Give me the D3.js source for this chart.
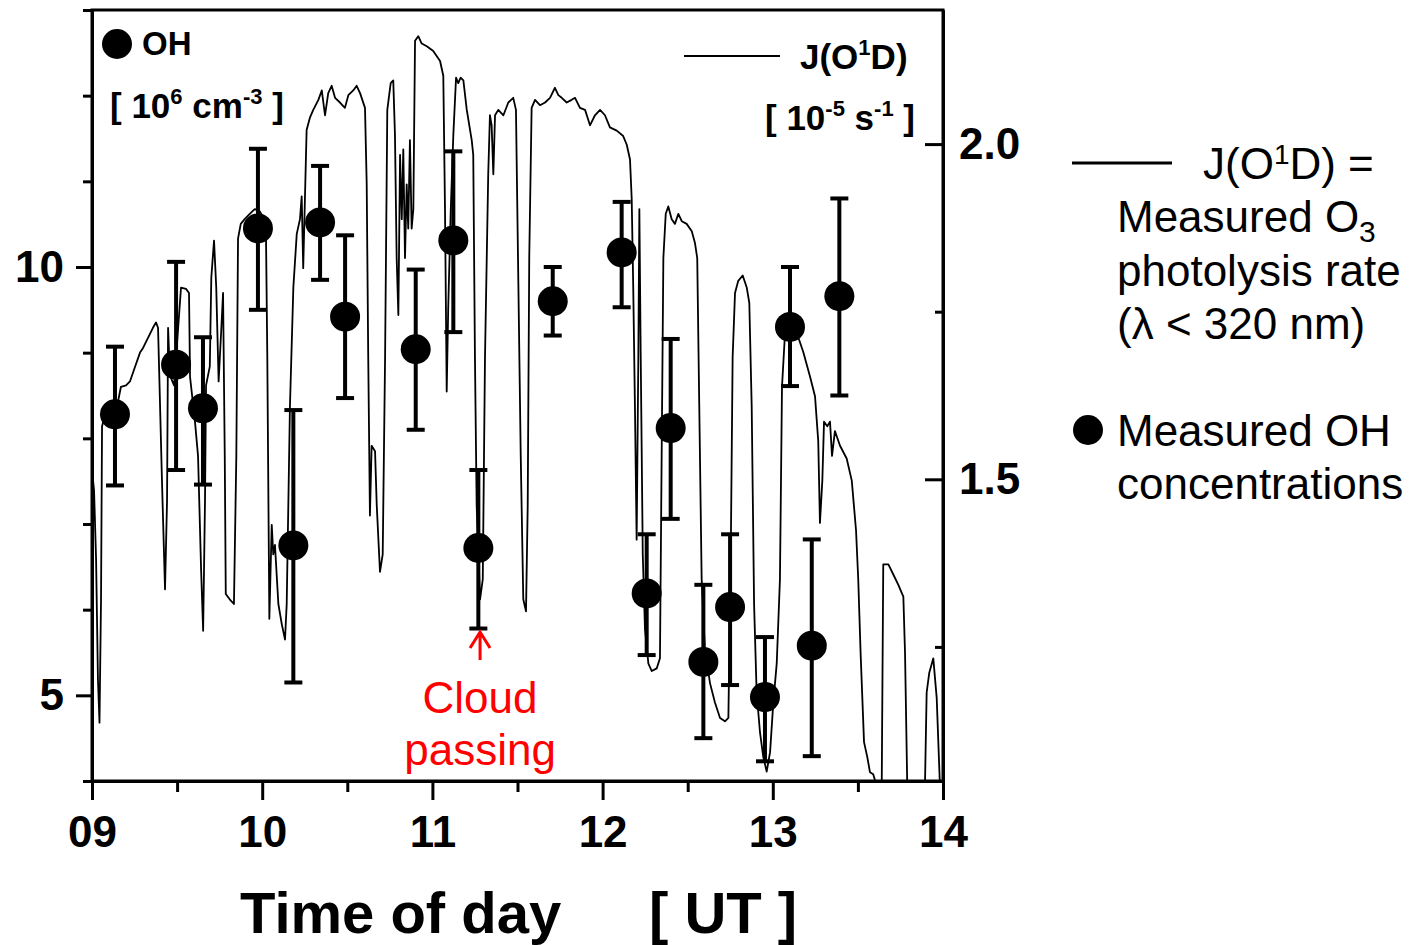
<!DOCTYPE html>
<html>
<head>
<meta charset="utf-8">
<script src="https://cdn.jsdelivr.net/npm/d3@7"></script>
<style>
  body { margin: 0; background: #fff; }
  svg { display: block; font-family: "Liberation Sans", Arial, sans-serif; }
  .axis path, .axis line { stroke: #000; stroke-width: 3; }
  .axis text { font-size: 44px; font-weight: bold; fill: #000; font-family: "Liberation Sans", Arial, sans-serif; }
</style>
</head>
<body>
<div id="chart-area"></div>
<script>
// OH measurements (10^6 cm-3) with error bars
var ohTime = [9.135, 9.494, 9.652, 9.975, 10.183, 10.340, 10.487, 10.902, 11.123, 11.270,
              11.707, 12.112, 12.259, 12.400, 12.592, 12.749, 12.954, 13.101, 13.229, 13.391];
var ohConc = [8.28, 8.86, 8.35, 10.45, 6.75, 10.52, 9.42, 9.04, 10.31, 6.72,
              9.60, 10.17, 6.19, 8.12, 5.39, 6.03, 4.98, 9.30, 5.58, 9.66];
var ohHigh = [9.07, 10.06, 9.18, 11.38, 8.33, 11.18, 10.37, 9.97, 11.35, 7.63,
              10.00, 10.76, 6.88, 9.16, 6.29, 6.88, 5.68, 10.00, 6.82, 10.80];
var ohLow  = [7.45, 7.63, 7.46, 9.50, 5.15, 9.85, 8.47, 8.10, 9.24, 5.78,
              9.20, 9.53, 5.47, 7.06, 4.50, 5.12, 4.23, 8.61, 4.29, 8.50];

// J(O1D) trace (10^-5 s-1)
var jTime = [9.000, 9.012, 9.024, 9.035, 9.044, 9.053, 9.059, 9.075, 9.106, 9.153, 9.170, 9.200, 9.223, 9.253, 9.282, 9.300,
  9.329, 9.358, 9.376, 9.388, 9.394, 9.411, 9.429, 9.441, 9.447, 9.458, 9.482, 9.505, 9.523, 9.552, 9.570, 9.576,
  9.605, 9.623, 9.641, 9.653, 9.664, 9.670, 9.692, 9.701, 9.717, 9.730, 9.744, 9.760, 9.770, 9.780, 9.786, 9.809,
  9.834, 9.848, 9.858, 9.874, 9.897, 9.927, 9.956, 9.985, 10.012,
  10.022, 10.030, 10.042, 10.056, 10.065, 10.075, 10.095, 10.115, 10.134, 10.144, 10.163, 10.183, 10.203, 10.222,
  10.232, 10.241, 10.251, 10.261, 10.281, 10.300, 10.330, 10.350, 10.369, 10.388, 10.408, 10.428, 10.457, 10.486,
  10.506, 10.535, 10.555, 10.575, 10.604, 10.614, 10.623, 10.633, 10.643, 10.663, 10.673, 10.692, 10.708, 10.722,
  10.735, 10.755, 10.770, 10.780, 10.790, 10.800, 10.810, 10.820, 10.829, 10.839, 10.849, 10.858, 10.868, 10.878,
  10.888, 10.898, 10.917, 10.937, 10.967, 11.005, 11.045,
  11.064, 11.074, 11.084, 11.093, 11.108, 11.123, 11.139, 11.152, 11.166, 11.182, 11.202, 11.231, 11.240, 11.250,
  11.260, 11.280, 11.296, 11.309, 11.328, 11.338, 11.348, 11.358, 11.368, 11.387, 11.417, 11.446, 11.475, 11.491,
  11.505, 11.519, 11.534, 11.550, 11.560, 11.569, 11.583, 11.603, 11.632, 11.662, 11.691, 11.720, 11.740, 11.760,
  11.789, 11.818, 11.838, 11.867, 11.897, 11.926, 11.955, 11.985, 12.014,
  12.043, 12.083, 12.121, 12.142, 12.161, 12.171, 12.180, 12.190, 12.200, 12.210, 12.216, 12.224, 12.236, 12.249,
  12.269, 12.289, 12.318, 12.337, 12.347, 12.357, 12.371, 12.386, 12.406, 12.425, 12.445, 12.465, 12.494, 12.524,
  12.543, 12.556, 12.568, 12.582, 12.601, 12.631, 12.660, 12.690, 12.719, 12.739, 12.753, 12.764, 12.778, 12.797,
  12.823, 12.847, 12.862, 12.876, 12.890, 12.905, 12.925, 12.944, 12.964, 12.984, 13.003, 13.023,
  13.042, 13.054, 13.072, 13.101, 13.140, 13.179, 13.219, 13.248, 13.267, 13.277, 13.291, 13.301, 13.320, 13.336,
  13.348, 13.365, 13.395, 13.434, 13.464, 13.489, 13.502, 13.516, 13.536, 13.555, 13.571, 13.590, 13.610, 13.640,
  13.649, 13.679, 13.708, 13.737, 13.767, 13.777, 13.790, 13.894, 13.904, 13.919, 13.943, 13.963, 13.982];
var jRate = [1.513, 1.484, 1.380, 1.201, 1.137, 1.320, 1.579, 1.594, 1.606, 1.616, 1.638, 1.640, 1.646, 1.668, 1.689, 1.696,
  1.711, 1.726, 1.734, 1.726, 1.668, 1.499, 1.336, 1.469, 1.726, 1.655, 1.640, 1.722, 1.786, 1.784, 1.778, 1.653,
  1.586, 1.535, 1.365, 1.274, 1.469, 1.640, 1.668, 1.801, 1.856, 1.786, 1.646, 1.726, 1.778, 1.535, 1.329, 1.321,
  1.314, 1.535, 1.859, 1.881, 1.888, 1.896, 1.903, 1.900, 1.888,
  1.871, 1.682, 1.292, 1.432, 1.388, 1.402, 1.314, 1.284, 1.261, 1.314, 1.609, 1.786, 1.866, 1.888,
  1.922, 1.815, 1.918, 2.021, 2.040, 2.051, 2.066, 2.080, 2.043, 2.076, 2.087, 2.069, 2.062, 2.054,
  2.073, 2.080, 2.087, 2.076, 2.054, 1.940, 1.682, 1.446, 1.550, 1.542, 1.461, 1.362, 1.388, 1.682,
  2.051, 2.091, 2.095, 2.014, 1.830, 1.745, 1.984, 1.888, 1.992, 1.830, 1.940, 1.874, 2.006, 1.874,
  1.903, 2.154, 2.161, 2.150, 2.146, 2.139, 2.124,
  2.102, 1.903, 1.631, 1.756, 1.903, 2.014, 2.099, 2.091, 2.099, 2.095, 2.051, 2.006, 1.984, 1.682,
  1.461, 1.321, 1.351, 1.682, 1.955, 2.043, 2.028, 1.955, 2.043, 2.051, 2.043, 2.062, 2.069, 2.051,
  1.793, 1.535, 1.321, 1.303, 1.461, 1.830, 2.054, 2.066, 2.058, 2.062, 2.069, 2.084, 2.073, 2.069,
  2.062, 2.066, 2.069, 2.054, 2.051, 2.028, 2.043, 2.051, 2.043,
  2.025, 2.020, 2.012, 1.999, 1.977, 1.918, 1.786, 1.609, 1.410, 1.682, 1.903, 1.682, 1.388, 1.277,
  1.225, 1.214, 1.218, 1.233, 1.535, 1.830, 1.896, 1.907, 1.888, 1.881, 1.896, 1.885, 1.881, 1.870,
  1.852, 1.830, 1.609, 1.351, 1.248, 1.196, 1.167, 1.144, 1.139, 1.144, 1.388, 1.682, 1.778, 1.796,
  1.804, 1.786, 1.763, 1.609, 1.314, 1.182, 1.122, 1.086, 1.064, 1.093, 1.167, 1.225,
  1.351, 1.638, 1.719, 1.727, 1.719, 1.690, 1.653, 1.624, 1.557, 1.435, 1.498, 1.586, 1.579, 1.586,
  1.535, 1.572, 1.550, 1.531, 1.498, 1.424, 1.351, 1.240, 1.108, 1.086, 1.063, 1.060, 1.043, 1.043,
  1.373, 1.373, 1.358, 1.343, 1.325, 1.240, 1.043, 1.043, 1.182, 1.211, 1.233, 1.174, 1.043];

// axis ticks
var timeTicks = [9, 10, 11, 12, 13, 14];
var timeMinor = [9.5, 10.5, 11.5, 12.5, 13.5];
var ohTicks = [5, 10];
var ohMinor = [4, 6, 7, 8, 9, 11, 12, 13];
var jTicks = [1.5, 2.0];
var jMinor = [1.25, 1.75];

var margin = { top: 10, right: 475, bottom: 164, left: 92 },
    width = 1418 - margin.left - margin.right,
    height = 945 - margin.top - margin.bottom;

var svg = d3.select('#chart-area').append('svg')
    .attr('width', 1418)
    .attr('height', 945)
  .append('g')
    .attr('transform', 'translate(' + margin.left + ',' + margin.top + ')');

var x = d3.scaleLinear().domain([9, 14]).range([0, width]);
var yOH = d3.scaleLinear().domain([4, 13]).range([height, 0]);
var yJ = d3.scaleLinear().domain([1.05, 2.2]).range([height, 0]);

svg.append('clipPath').attr('id', 'plot-clip')
  .append('rect').attr('width', width).attr('height', height);

// J(O1D) line
var jData = jTime.map(function(t, i){ return { t: t, v: jRate[i] }; });
var line = d3.line()
  .x(function(d){ return x(d.t); })
  .y(function(d){ return yJ(d.v); });

svg.append('path')
  .datum(jData)
  .attr('clip-path', 'url(#plot-clip)')
  .attr('fill', 'none')
  .attr('stroke', '#000')
  .attr('stroke-width', 1.8)
  .attr('stroke-linejoin', 'round')
  .attr('d', line);

// OH points with error bars
var ohData = ohTime.map(function(t, i){
  return { t: t, c: ohConc[i], lo: ohLow[i], hi: ohHigh[i] };
});

var bars = svg.append('g').selectAll('g').data(ohData).enter().append('g');
bars.append('line')
  .attr('x1', function(d){ return x(d.t); })
  .attr('x2', function(d){ return x(d.t); })
  .attr('y1', function(d){ return yOH(d.lo); })
  .attr('y2', function(d){ return yOH(d.hi); })
  .attr('stroke', '#000').attr('stroke-width', 4);
['lo', 'hi'].forEach(function(k){
  bars.append('line')
    .attr('x1', function(d){ return x(d.t) - 9; })
    .attr('x2', function(d){ return x(d.t) + 9; })
    .attr('y1', function(d){ return yOH(d[k]); })
    .attr('y2', function(d){ return yOH(d[k]); })
    .attr('stroke', '#000').attr('stroke-width', 4);
});
bars.append('circle')
  .attr('cx', function(d){ return x(d.t); })
  .attr('cy', function(d){ return yOH(d.c); })
  .attr('r', 15)
  .attr('fill', '#000');

// frame
svg.append('rect')
  .attr('width', width).attr('height', height)
  .attr('fill', 'none').attr('stroke', '#000').attr('stroke-width', 3);

// x axis
svg.append('g').attr('class', 'axis')
  .attr('transform', 'translate(0,' + height + ')')
  .call(d3.axisBottom(x).tickValues(timeMinor).tickSize(11).tickSizeOuter(0).tickFormat(''));
svg.append('g').attr('class', 'axis')
  .attr('transform', 'translate(0,' + height + ')')
  .call(d3.axisBottom(x).tickValues(timeTicks).tickSize(19).tickSizeOuter(0).tickPadding(16)
    .tickFormat(d3.format('02d')));

// left axis
svg.append('g').attr('class', 'axis')
  .call(d3.axisLeft(yOH).tickValues(ohMinor).tickSize(9).tickSizeOuter(0).tickFormat(''));
svg.append('g').attr('class', 'axis')
  .call(d3.axisLeft(yOH).tickValues(ohTicks).tickSize(16).tickSizeOuter(0).tickPadding(12)
    .tickFormat(d3.format('d')));

// right axis (ticks inside)
svg.append('g').attr('class', 'axis')
  .attr('transform', 'translate(' + width + ',0)')
  .call(d3.axisRight(yJ).tickValues(jMinor).tickSize(-8).tickSizeOuter(0).tickFormat(''));
svg.append('g').attr('class', 'axis')
  .attr('transform', 'translate(' + width + ',0)')
  .call(d3.axisRight(yJ).tickValues(jTicks).tickSize(-18).tickSizeOuter(0).tickPadding(16)
    .tickFormat(d3.format('.1f')));

// x label
var xLabel = svg.append('text')
  .attr('y', 923)
  .attr('font-size', '58px')
  .attr('font-weight', 'bold');
xLabel.append('tspan').attr('x', 148).text('Time of day');
xLabel.append('tspan').attr('x', 557).text('[ UT ]');

// inner legend: OH
svg.append('circle').attr('cx', 25).attr('cy', 34).attr('r', 15).attr('fill', '#000');
svg.append('text').attr('x', 50).attr('y', 45)
  .attr('font-size', '33px').attr('font-weight', 'bold').text('OH');

var ohUnit = svg.append('text').attr('x', 18).attr('y', 108)
  .attr('font-size', '35px').attr('font-weight', 'bold');
ohUnit.append('tspan').text('[ 10');
ohUnit.append('tspan').attr('font-size', '22px').attr('dy', -14).text('6');
ohUnit.append('tspan').attr('dy', 14).text(' cm');
ohUnit.append('tspan').attr('font-size', '22px').attr('dy', -14).text('-3');
ohUnit.append('tspan').attr('dy', 14).text(' ]');

// inner legend: J(O1D)
svg.append('line').attr('x1', 592).attr('x2', 688).attr('y1', 46).attr('y2', 46)
  .attr('stroke', '#000').attr('stroke-width', 2);
var jLab = svg.append('text').attr('x', 708).attr('y', 59)
  .attr('font-size', '35px').attr('font-weight', 'bold');
jLab.append('tspan').text('J(O');
jLab.append('tspan').attr('font-size', '22px').attr('dy', -14).text('1');
jLab.append('tspan').attr('dy', 14).text('D)');

var jUnit = svg.append('text').attr('x', 673).attr('y', 120)
  .attr('font-size', '35px').attr('font-weight', 'bold');
jUnit.append('tspan').text('[ 10');
jUnit.append('tspan').attr('font-size', '22px').attr('dy', -14).text('-5');
jUnit.append('tspan').attr('dy', 14).text(' s');
jUnit.append('tspan').attr('font-size', '22px').attr('dy', -14).text('-1');
jUnit.append('tspan').attr('dy', 14).text(' ]');

// cloud annotation
var red = '#ff0000';
var cx = x(11.28);
svg.append('path')
  .attr('d', 'M' + cx + ',' + 650 + 'V' + 622 + 'M' + (cx - 10) + ',' + 638 + 'L' + cx + ',' + 622 + 'L' + (cx + 10) + ',' + 638)
  .attr('fill', 'none').attr('stroke', red).attr('stroke-width', 3);
svg.append('text').attr('x', cx).attr('y', 703).attr('text-anchor', 'middle')
  .attr('font-size', '44px').attr('fill', red).text('Cloud');
svg.append('text').attr('x', cx).attr('y', 755).attr('text-anchor', 'middle')
  .attr('font-size', '44px').attr('fill', red).text('passing');

// right-hand legend
var legend = d3.select('svg').append('g');
legend.append('line').attr('x1', 1072).attr('x2', 1172).attr('y1', 163).attr('y2', 163)
  .attr('stroke', '#000').attr('stroke-width', 3);

var l1 = legend.append('text').attr('x', 1203).attr('y', 179).attr('font-size', '44px');
l1.append('tspan').text('J(O');
l1.append('tspan').attr('font-size', '28px').attr('dy', -15).text('1');
l1.append('tspan').attr('dy', 15).text('D) =');

var l2 = legend.append('text').attr('x', 1117).attr('y', 232).attr('font-size', '44px');
l2.append('tspan').text('Measured O');
l2.append('tspan').attr('font-size', '30px').attr('dy', 10).text('3');

legend.append('text').attr('x', 1117).attr('y', 286).attr('font-size', '44px').text('photolysis rate');
legend.append('text').attr('x', 1117).attr('y', 339).attr('font-size', '44px').text('(\u03bb < 320 nm)');

legend.append('circle').attr('cx', 1088).attr('cy', 430).attr('r', 15).attr('fill', '#000');
legend.append('text').attr('x', 1117).attr('y', 446).attr('font-size', '44px').text('Measured OH');
legend.append('text').attr('x', 1117).attr('y', 499).attr('font-size', '44px').text('concentrations');
</script>
</body>
</html>
